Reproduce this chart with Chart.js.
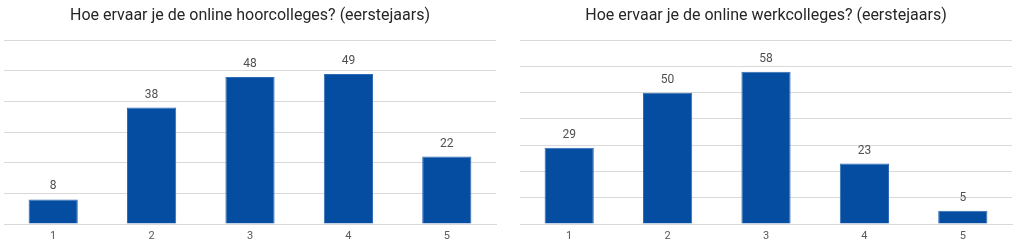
<!DOCTYPE html>
<html lang="nl">
<head>
<meta charset="UTF-8">
<title>Online colleges</title>
<script src="https://cdn.jsdelivr.net/npm/chart.js@4"></script>
<style>
    html, body { margin: 0; padding: 0; background: #fff; }
    .row { display: flex; width: 1024px; height: 246px; }
    .cell { width: 512px; height: 246px; }
</style>
</head>
<body>
<div class="row">
    <div class="cell"><canvas id="chart-hoor" width="512" height="246"></canvas></div>
    <div class="cell"><canvas id="chart-werk" width="512" height="246"></canvas></div>
</div>
<script>
    const categories = ["1", "2", "3", "4", "5"];
    const hoorcolleges = [8, 38, 48, 49, 22];
    const werkcolleges = [29, 50, 58, 23, 5];
    const titleHoor = "Hoe ervaar je de online hoorcolleges? (eerstejaars)";
    const titleWerk = "Hoe ervaar je de online werkcolleges? (eerstejaars)";

    const barColor = '#054da0';
    const fontFamily = 'Roboto, "DejaVu Sans", sans-serif';

    // draws the value above each bar
    const valueLabels = {
        id: 'valueLabels',
        afterDatasetsDraw(chart) {
            const ctx = chart.ctx;
            ctx.save();
            ctx.font = '12px ' + fontFamily;
            ctx.fillStyle = '#505050';
            ctx.textAlign = 'center';
            ctx.textBaseline = 'bottom';
            chart.getDatasetMeta(0).data.forEach((bar, i) => {
                ctx.fillText(chart.data.datasets[0].data[i], bar.x, bar.y - 7);
            });
            ctx.restore();
        }
    };

    function makeChart(id, title, values, yMax, padLeft, padRight) {
        return new Chart(document.getElementById(id), {
            type: 'bar',
            data: {
                labels: categories,
                datasets: [{
                    data: values,
                    backgroundColor: barColor,
                    borderColor: '#2f6cb5',
                    borderWidth: 1,
                    categoryPercentage: 1,
                    barPercentage: 0.5
                }]
            },
            options: {
                responsive: false,
                animation: false,
                layout: { padding: { left: padLeft, right: padRight, top: 0, bottom: 0 } },
                plugins: {
                    legend: { display: false },
                    tooltip: { enabled: false },
                    title: {
                        display: true,
                        text: title,
                        color: '#262626',
                        font: { family: fontFamily, size: 16, weight: 'normal' },
                        padding: { top: 6, bottom: 15 }
                    }
                },
                scales: {
                    x: {
                        grid: { display: false, drawTicks: false },
                        border: { display: true, color: '#d9d9d9', width: 1 },
                        ticks: { color: '#595959', font: { family: fontFamily, size: 11 }, padding: 6 },
                        afterFit(scale) { scale.height = 22; }
                    },
                    y: {
                        min: 0,
                        max: yMax,
                        ticks: { display: false, stepSize: 10 },
                        grid: { color: '#d9d9d9', drawTicks: false },
                        border: { display: false }
                    }
                }
            },
            plugins: [valueLabels]
        });
    }

    makeChart('chart-hoor', titleHoor, hoorcolleges, 60, 4, 16);
    makeChart('chart-werk', titleWerk, werkcolleges, 70, 8, 12);
</script>
</body>
</html>
